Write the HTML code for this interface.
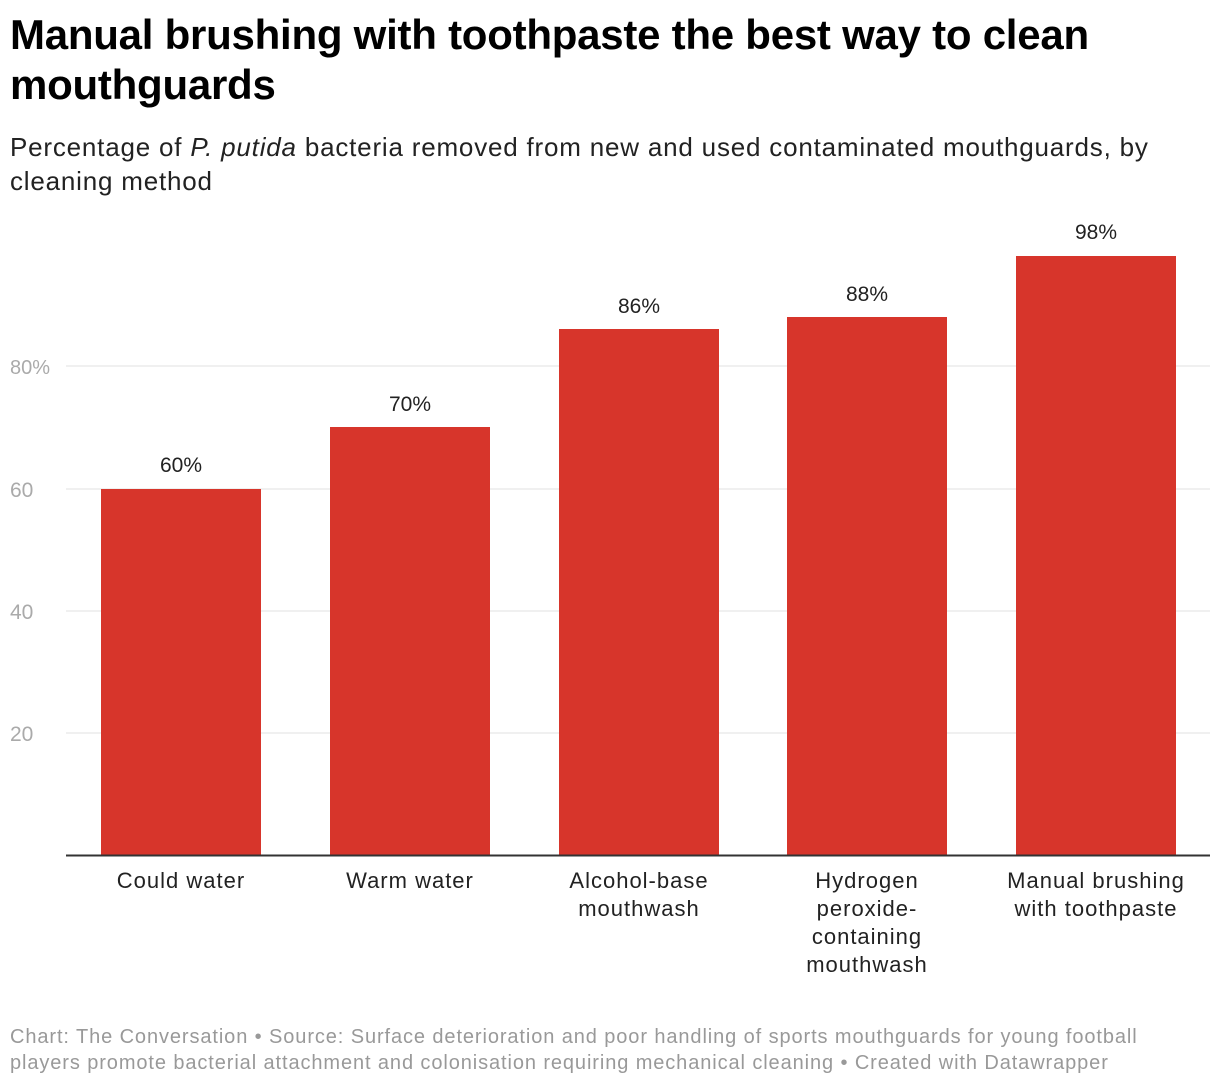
<!DOCTYPE html>
<html><head><meta charset="utf-8"><style>
body{margin:0;width:1220px;height:1086px;background:#fff;font-family:"Liberation Sans",sans-serif;position:relative;overflow:hidden}
.t{position:absolute;left:10px;top:10px;font-size:42px;font-weight:bold;line-height:50px;color:#000;letter-spacing:-0.25px}
.s{position:absolute;left:10px;top:130px;font-size:26px;line-height:34px;color:#222;letter-spacing:0.8px}
.f{position:absolute;left:10px;top:1024px;font-size:20px;line-height:26px;color:#999;letter-spacing:0.9px}
</style></head><body>
<div class="t">Manual brushing with toothpaste the best way to clean<br>mouthguards</div>
<div class="s">Percentage of <i>P. putida</i> bacteria removed from new and used contaminated mouthguards, by<br>cleaning method</div>
<svg width="1220" height="1086" style="position:absolute;left:0;top:0" font-family="Liberation Sans, sans-serif">
<g stroke="#e0e0e0" stroke-width="1">
<line x1="66" x2="1210" y1="366" y2="366"/><line x1="66" x2="1210" y1="489" y2="489"/>
<line x1="66" x2="1210" y1="611" y2="611"/><line x1="66" x2="1210" y1="733" y2="733"/>
</g>
<g fill="#aaa" font-size="21">
<text x="10" y="374" font-size="20">80%</text><text x="10" y="497">60</text><text x="10" y="619">40</text><text x="10" y="741">20</text>
</g>
<g fill="#d7352b">
<rect x="101" y="489" width="160" height="366"/>
<rect x="330" y="427" width="160" height="428"/>
<rect x="559" y="329" width="160" height="526"/>
<rect x="787" y="317" width="160" height="538"/>
<rect x="1016" y="256" width="160" height="599"/>
</g>
<line x1="66" x2="1210" y1="855.5" y2="855.5" stroke="#333" stroke-width="2"/>
<g fill="#222" font-size="21" text-anchor="middle">
<text x="181" y="472">60%</text><text x="410" y="411">70%</text><text x="639" y="313">86%</text><text x="867" y="301">88%</text><text x="1096" y="239">98%</text>
</g>
<g fill="#222" font-size="22" text-anchor="middle" letter-spacing="1">
<text x="181" y="888">Could water</text>
<text x="410" y="888">Warm water</text>
<text x="639" y="888">Alcohol-base</text><text x="639" y="916">mouthwash</text>
<text x="867" y="888">Hydrogen</text><text x="867" y="916">peroxide-</text><text x="867" y="944">containing</text><text x="867" y="972">mouthwash</text>
<text x="1096" y="888">Manual brushing</text><text x="1096" y="916">with toothpaste</text>
</g>
</svg>
<div class="f">Chart: The Conversation • Source: Surface deterioration and poor handling of sports mouthguards for young football<br>players promote bacterial attachment and colonisation requiring mechanical cleaning • Created with Datawrapper</div>
</body></html>
